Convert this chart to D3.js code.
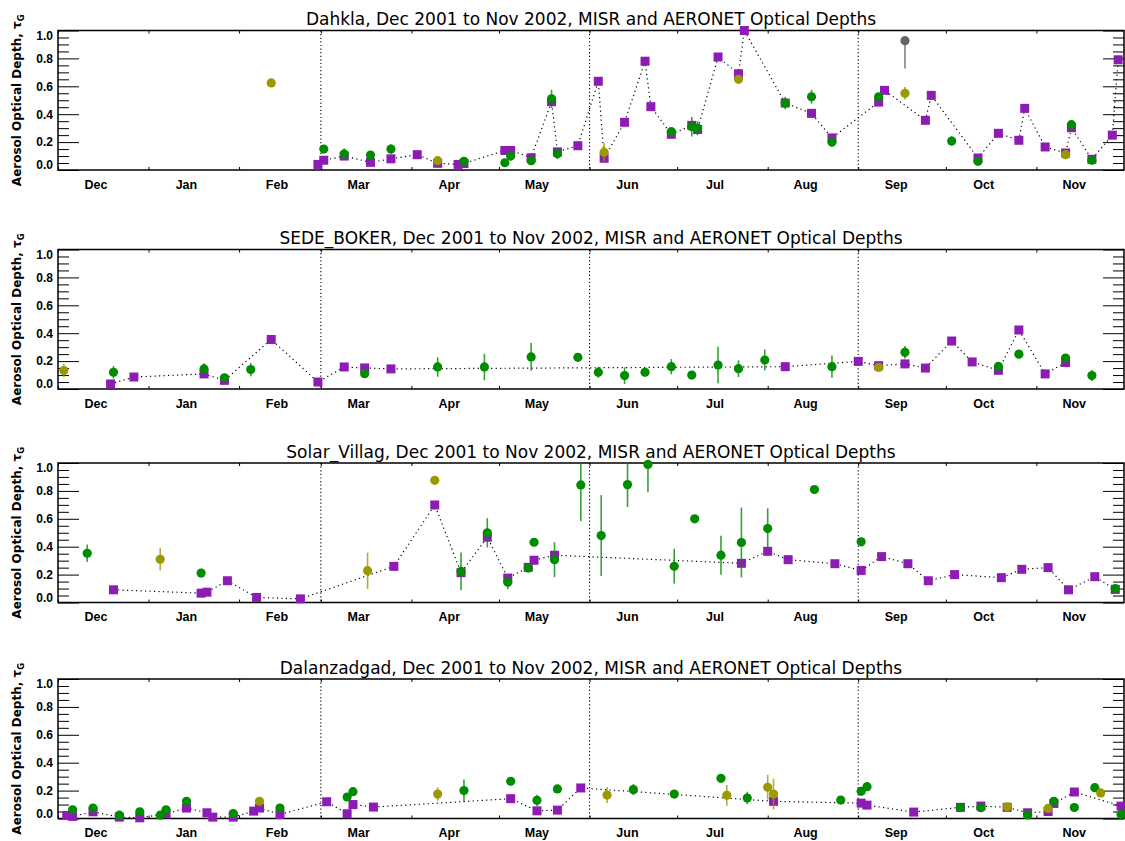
<!DOCTYPE html>
<html>
<head>
<meta charset="utf-8">
<script src="https://cdn.jsdelivr.net/npm/d3@7"></script>
<style>
  body { margin: 0; background: #fff; }
  svg { display: block; }
</style>
</head>
<body>
<div id="main-container"></div>
<script>
// DATA
// MISR rows: [date, optical depth]
// AERONET rows: [date, optical depth, error down, error up, kind]  kind: g green, o olive, k grey
const stations = ["Dahkla", "SEDE_BOKER", "Solar_Villag", "Dalanzadgad"];

const dahklaMisr = [
  ["2002-02-28",0.04],["2002-03-02",0.07],["2002-03-09",0.10],["2002-03-18",0.055],["2002-03-25",0.08],
  ["2002-04-03",0.11],["2002-04-10",0.048],["2002-04-17",0.04],["2002-04-19",0.047],["2002-05-03",0.14],
  ["2002-05-05",0.14],["2002-05-12",0.088],["2002-05-19",0.49],["2002-05-21",0.13],["2002-05-28",0.174],
  ["2002-06-04",0.636],["2002-06-06",0.084],["2002-06-13",0.342],["2002-06-20",0.78],["2002-06-22",0.454],
  ["2002-06-29",0.256],["2002-07-06",0.32],["2002-07-08",0.29],["2002-07-15",0.81],["2002-07-22",0.69],
  ["2002-07-24",1.0],["2002-08-07",0.48],["2002-08-16",0.406],["2002-08-23",0.23],["2002-09-08",0.487],
  ["2002-09-10",0.571],["2002-09-24",0.356],["2002-09-26",0.535],["2002-10-12",0.086],["2002-10-19",0.263],
  ["2002-10-26",0.213],["2002-10-28",0.442],["2002-11-04",0.165],["2002-11-11",0.122],["2002-11-13",0.303],
  ["2002-11-20",0.077],["2002-11-27",0.25],["2002-11-29",0.79]
];
const dahklaAeronet = [
  ["2002-02-12",0.624,0,0,"o"],["2002-03-02",0.15,0.01,0.01,"g"],["2002-03-09",0.115,0.04,0.04,"g"],
  ["2002-03-18",0.107,0.015,0.015,"g"],["2002-03-25",0.15,0.035,0.035,"g"],["2002-04-10",0.067,0.02,0.02,"o"],
  ["2002-04-19",0.062,0.015,0.015,"g"],["2002-05-03",0.052,0,0,"g"],["2002-05-05",0.10,0.03,0.03,"g"],
  ["2002-05-12",0.067,0.01,0.01,"g"],["2002-05-19",0.51,0.065,0.065,"g"],["2002-05-21",0.117,0.04,0.04,"g"],
  ["2002-06-06",0.127,0.065,0.065,"o"],["2002-06-29",0.275,0.02,0.02,"g"],["2002-07-06",0.31,0.07,0.07,"g"],
  ["2002-07-08",0.30,0.05,0.05,"g"],["2002-07-22",0.65,0.015,0.015,"o"],["2002-08-07",0.48,0.045,0.045,"g"],
  ["2002-08-16",0.525,0.05,0.05,"g"],["2002-08-23",0.2,0.035,0.035,"g"],["2002-09-08",0.525,0.02,0.02,"g"],
  ["2002-09-17",0.927,0.2,0,"k"],["2002-09-17",0.55,0.045,0.045,"o"],["2002-10-03",0.208,0.035,0.035,"g"],
  ["2002-10-12",0.062,0.01,0.01,"g"],["2002-11-11",0.11,0.01,0.01,"o"],["2002-11-13",0.325,0.015,0.015,"g"],
  ["2002-11-20",0.07,0.01,0.01,"g"]
];

const sedeMisr = [
  ["2001-12-19",0.036],["2001-12-27",0.086],["2002-01-20",0.108],["2002-01-27",0.062],["2002-02-12",0.355],
  ["2002-02-28",0.05],["2002-03-09",0.158],["2002-03-16",0.151],["2002-03-25",0.144],["2002-08-07",0.16],
  ["2002-09-01",0.198],["2002-09-08",0.167],["2002-09-17",0.18],["2002-09-24",0.15],["2002-10-03",0.344],
  ["2002-10-10",0.194],["2002-10-19",0.134],["2002-10-26",0.423],["2002-11-04",0.108],["2002-11-11",0.19]
];
const sedeAeronet = [
  ["2001-12-03",0.132,0.048,0.048,"o"],["2001-12-20",0.12,0.045,0.045,"g"],["2002-01-20",0.144,0.04,0.04,"g"],
  ["2002-01-27",0.08,0.01,0.01,"g"],["2002-02-05",0.139,0.048,0.048,"g"],["2002-03-16",0.11,0.01,0.01,"g"],
  ["2002-04-10",0.158,0.07,0.07,"g"],["2002-04-26",0.158,0.095,0.095,"g"],["2002-05-12",0.23,0.1,0.1,"g"],
  ["2002-05-28",0.227,0.02,0.02,"g"],["2002-06-04",0.12,0.04,0.04,"g"],["2002-06-13",0.096,0.06,0.06,"g"],
  ["2002-06-20",0.12,0.03,0.03,"g"],["2002-06-29",0.16,0.055,0.055,"g"],["2002-07-06",0.10,0,0,"g"],
  ["2002-07-15",0.172,0.13,0.13,"g"],["2002-07-22",0.146,0.06,0.06,"g"],["2002-07-31",0.208,0.075,0.075,"g"],
  ["2002-08-23",0.16,0.08,0.08,"g"],["2002-09-08",0.155,0.02,0.02,"o"],["2002-09-17",0.263,0.045,0.045,"g"],
  ["2002-10-19",0.162,0.02,0.02,"g"],["2002-10-26",0.25,0.01,0.01,"g"],["2002-11-11",0.222,0.02,0.02,"g"],
  ["2002-11-20",0.096,0.04,0.04,"g"]
];

const solarMisr = [
  ["2001-12-20",0.091],["2002-01-19",0.067],["2002-01-21",0.074],["2002-01-28",0.156],["2002-02-07",0.036],
  ["2002-02-22",0.026],["2002-03-26",0.259],["2002-04-09",0.699],["2002-04-18",0.214],["2002-04-27",0.468],
  ["2002-05-04",0.175],["2002-05-11",0.252],["2002-05-13",0.303],["2002-05-20",0.339],["2002-07-23",0.281],
  ["2002-08-01",0.367],["2002-08-08",0.307],["2002-08-24",0.278],["2002-09-02",0.23],["2002-09-09",0.329],
  ["2002-09-18",0.278],["2002-09-25",0.156],["2002-10-04",0.2],["2002-10-20",0.178],["2002-10-27",0.238],
  ["2002-11-05",0.25],["2002-11-12",0.091],["2002-11-21",0.185],["2002-11-28",0.094]
];
const solarAeronet = [
  ["2001-12-11",0.353,0.062,0.062,"g"],["2002-01-05",0.31,0.08,0.08,"o"],["2002-01-19",0.211,0,0,"g"],
  ["2002-03-17",0.228,0.13,0.13,"o"],["2002-04-09",0.876,0,0,"o"],["2002-04-18",0.223,0.135,0.135,"g"],
  ["2002-04-27",0.5,0.105,0.105,"g"],["2002-05-04",0.146,0.05,0.05,"g"],["2002-05-11",0.247,0.02,0.02,"g"],
  ["2002-05-13",0.432,0,0,"g"],["2002-05-20",0.307,0.125,0.125,"g"],["2002-05-29",0.843,0.26,0.26,"g"],
  ["2002-06-05",0.48,0.29,0.29,"g"],["2002-06-14",0.845,0.16,0.16,"g"],["2002-06-21",0.99,0.2,0.2,"g"],
  ["2002-06-30",0.26,0.125,0.125,"g"],["2002-07-07",0.6,0,0,"g"],["2002-07-16",0.339,0.14,0.14,"g"],
  ["2002-07-23",0.43,0.25,0.25,"g"],["2002-08-01",0.53,0.145,0.145,"g"],["2002-08-17",0.81,0,0,"g"],
  ["2002-09-02",0.435,0,0,"g"],["2002-11-28",0.1,0.01,0.01,"g"]
];

const dalanMisr = [
  ["2001-12-04",0.022],["2001-12-06",0.015],["2001-12-13",0.048],["2001-12-22",0.01],["2001-12-29",0.005],
  ["2002-01-07",0.034],["2002-01-14",0.075],["2002-01-21",0.041],["2002-01-23",0.01],["2002-01-30",0.01],
  ["2002-02-06",0.053],["2002-02-08",0.075],["2002-02-15",0.029],["2002-03-03",0.12],["2002-03-10",0.034],
  ["2002-03-12",0.1],["2002-03-19",0.082],["2002-05-05",0.142],["2002-05-14",0.055],["2002-05-21",0.06],
  ["2002-05-29",0.219],["2002-08-03",0.123],["2002-09-02",0.11],["2002-09-04",0.096],["2002-09-20",0.046],
  ["2002-10-06",0.08],["2002-10-13",0.089],["2002-10-22",0.08],["2002-10-29",0.041],["2002-11-05",0.05],
  ["2002-11-07",0.108],["2002-11-14",0.19],["2002-11-30",0.089]
];
const dalanAeronet = [
  ["2001-12-06",0.062,0,0,"g"],["2001-12-13",0.075,0,0,"g"],["2001-12-22",0.024,0,0,"g"],
  ["2001-12-29",0.048,0,0,"g"],["2002-01-05",0.024,0,0,"g"],["2002-01-07",0.062,0,0,"g"],
  ["2002-01-14",0.123,0.01,0.01,"g"],["2002-01-30",0.036,0,0,"g"],["2002-02-08",0.123,0.015,0.015,"o"],
  ["2002-02-15",0.075,0,0,"g"],["2002-03-10",0.154,0,0,"g"],["2002-03-12",0.192,0,0,"g"],
  ["2002-04-10",0.175,0.048,0.048,"o"],["2002-04-19",0.2,0.08,0.08,"g"],["2002-05-05",0.267,0,0,"g"],
  ["2002-05-14",0.13,0.04,0.04,"g"],["2002-05-21",0.212,0.02,0.02,"g"],["2002-06-07",0.168,0.057,0.057,"o"],
  ["2002-06-16",0.207,0.04,0.04,"g"],["2002-06-30",0.175,0,0,"g"],["2002-07-16",0.288,0,0,"g"],
  ["2002-07-18",0.166,0.075,0.075,"o"],["2002-07-25",0.147,0.045,0.045,"g"],["2002-08-01",0.224,0.088,0.088,"o"],
  ["2002-08-03",0.175,0.11,0.11,"o"],["2002-08-26",0.132,0,0,"g"],["2002-09-02",0.195,0,0,"g"],
  ["2002-09-04",0.228,0.02,0.02,"g"],["2002-10-06",0.077,0,0,"g"],["2002-10-13",0.077,0,0,"g"],
  ["2002-10-22",0.084,0,0,"o"],["2002-10-29",0.026,0,0,"g"],["2002-11-05",0.072,0,0,"o"],
  ["2002-11-07",0.123,0,0,"g"],["2002-11-14",0.079,0,0,"g"],["2002-11-21",0.221,0,0,"g"],
  ["2002-11-23",0.183,0.02,0.02,"o"],["2002-11-30",0.029,0,0,"g"]
];

const monthStarts = ["2001-12-01","2002-01-01","2002-02-01","2002-03-01","2002-04-01","2002-05-01",
  "2002-06-01","2002-07-01","2002-08-01","2002-09-01","2002-10-01","2002-11-01"];
const monthLabels = ["Dec","Jan","Feb","Mar","Apr","May","Jun","Jul","Aug","Sep","Oct","Nov"];
const seasonBreaks = ["2002-03-01","2002-06-01","2002-09-01"];
const yTicks = [0, 0.2, 0.4, 0.6, 0.8, 1.0];
const yMinorTicks = [0.05,0.1,0.15,0.25,0.3,0.35,0.45,0.5,0.55,0.65,0.7,0.75,0.85,0.9,0.95];

// LAYOUT
const width = 1125, height = 841;
const left = 58, right = 1124;
const panelTops = [30.5, 249.5, 463, 679];
const plotH = 139.5;

const kindColour = {g: "#008c00", o: "#9a9a00", k: "#646464"};
const misrColour = "#8c1cb4";

const parse = d3.utcParse("%Y-%m-%d");

const panels = [
  {name: stations[0], misr: dahklaMisr, aeronet: dahklaAeronet},
  {name: stations[1], misr: sedeMisr, aeronet: sedeAeronet},
  {name: stations[2], misr: solarMisr, aeronet: solarAeronet},
  {name: stations[3], misr: dalanMisr, aeronet: dalanAeronet}
];

let xAxis = d3.scaleUtc()
  .domain([parse("2001-12-01"), parse("2002-12-01")])
  .range([left, right]);

let yAxis = d3.scaleLinear()
  .domain([0, 1])
  .range([plotH, 0]);

const dayPx = xAxis(parse("2001-12-02")) - xAxis(parse("2001-12-01"));

let svg = d3.select("#main-container")
  .append("svg")
    .attr("width", width)
    .attr("height", height)
    .style("font-family", "'DejaVu Sans', sans-serif");

panels.forEach((p, i) => {
  let g = svg.append("g")
    .attr("transform", `translate(0, ${panelTops[i]})`);

  // title
  g.append("text")
    .attr("x", (left + right) / 2)
    .attr("y", -5.5)
    .attr("text-anchor", "middle")
    .style("font-size", "17px")
    .text(`${p.name}, Dec 2001 to Nov 2002, MISR and AERONET Optical Depths`);

  // y title
  let yt = g.append("text")
    .attr("transform", `translate(21, ${plotH / 2}) rotate(-90)`)
    .attr("text-anchor", "middle")
    .style("font-size", "12px")
    .style("font-weight", "bold")
    .text("Aerosol Optical Depth, ");
  yt.append("tspan").text("\u03c4");
  yt.append("tspan").attr("dy", 3).style("font-size", "8.5px").text("G");

  // season separators
  g.selectAll(".season")
    .data(seasonBreaks)
    .enter()
    .append("line")
      .attr("x1", d => xAxis(parse(d)))
      .attr("x2", d => xAxis(parse(d)))
      .attr("y1", 0)
      .attr("y2", plotH)
      .attr("stroke", "#000")
      .attr("stroke-width", 1.1)
      .attr("stroke-dasharray", "1.2,2.4");

  // axes
  const months = monthStarts.map(parse);

  let bottom = g.append("g")
    .attr("transform", `translate(0, ${plotH})`)
    .call(d3.axisBottom(xAxis).tickValues(months).tickSizeInner(-3).tickSizeOuter(0)
      .tickPadding(10).tickFormat((d, j) => monthLabels[j]));
  bottom.selectAll("text")
    .attr("x", 12.8 * dayPx)
    .style("font-family", "'Liberation Sans', Arial, sans-serif")
    .style("font-size", "12.5px")
    .style("font-weight", "bold");

  g.append("g")
    .call(d3.axisTop(xAxis).tickValues(months).tickSizeInner(-3).tickSizeOuter(0).tickFormat(""));

  let leftAx = g.append("g")
    .attr("transform", `translate(${left}, 0)`)
    .call(d3.axisLeft(yAxis).tickValues(yTicks).tickSizeInner(-21).tickSizeOuter(0)
      .tickPadding(5).tickFormat(d3.format(".1f")));
  leftAx.selectAll("text")
    .style("font-size", "12px")
    .style("font-weight", "bold")
    .attr("y", d => d === 0 ? -5 : (d === 1 ? 5 : 0));

  g.append("g")
    .attr("transform", `translate(${left}, 0)`)
    .call(d3.axisLeft(yAxis).tickValues(yMinorTicks).tickSizeInner(-11).tickSizeOuter(0).tickFormat(""));

  g.append("g")
    .attr("transform", `translate(${right}, 0)`)
    .call(d3.axisRight(yAxis).tickValues(yTicks).tickSizeInner(-21).tickSizeOuter(0).tickFormat(""));

  g.append("g")
    .attr("transform", `translate(${right}, 0)`)
    .call(d3.axisRight(yAxis).tickValues(yMinorTicks).tickSizeInner(-11).tickSizeOuter(0).tickFormat(""));

  g.selectAll(".domain").remove();
  g.selectAll(".tick line").attr("stroke", "#000").attr("stroke-width", 1);

  g.append("rect")
    .attr("x", left)
    .attr("y", 0)
    .attr("width", right - left)
    .attr("height", plotH)
    .attr("fill", "none")
    .attr("stroke", "#000")
    .attr("stroke-width", 1.5);

  // MISR dotted line
  let line = d3.line()
    .x(d => xAxis(parse(d[0])))
    .y(d => yAxis(d[1]));

  g.append("path")
    .datum(p.misr)
    .attr("d", line)
    .attr("fill", "none")
    .attr("stroke", "#000")
    .attr("stroke-width", 1.2)
    .attr("stroke-dasharray", "1.2,3.3");

  // MISR squares
  g.selectAll(".misr")
    .data(p.misr)
    .enter()
    .append("rect")
      .attr("x", d => xAxis(parse(d[0])) - 4.5)
      .attr("y", d => yAxis(d[1]) - 4.5)
      .attr("width", 9)
      .attr("height", 9)
      .style("fill", misrColour);

  // AERONET error bars
  g.selectAll(".err")
    .data(p.aeronet.filter(d => d[2] + d[3] > 0))
    .enter()
    .append("line")
      .attr("x1", d => xAxis(parse(d[0])))
      .attr("x2", d => xAxis(parse(d[0])))
      .attr("y1", d => yAxis(Math.min(1, d[1] + d[3])))
      .attr("y2", d => yAxis(Math.max(0, d[1] - d[2])))
      .attr("stroke", d => kindColour[d[4]])
      .attr("stroke-opacity", 0.8)
      .attr("stroke-width", 1.6);

  // AERONET circles
  g.selectAll(".aeronet")
    .data(p.aeronet)
    .enter()
    .append("circle")
      .attr("cx", d => xAxis(parse(d[0])))
      .attr("cy", d => yAxis(d[1]))
      .attr("r", 4.6)
      .style("fill", d => kindColour[d[4]]);
});
</script>
</body>
</html>
